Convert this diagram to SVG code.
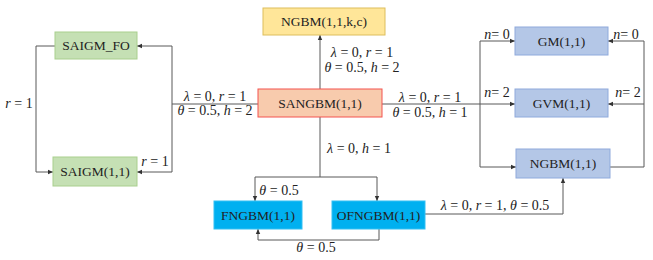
<svg xmlns="http://www.w3.org/2000/svg" width="653" height="260" viewBox="0 0 653 260">
<style>
.box{stroke-width:1}
.green{fill:#C5E0B4;stroke:#A9CF8E}
.yellow{fill:#FFE699;stroke:#DDBE5C}
.salmon{fill:#F8CBAD;stroke:#F4534F}
.blue{fill:#B4C7E7;stroke:#8FAADC}
.cyan{fill:#00B0F0;stroke:#33BFF3}
.lbl{font-size:13.5px;fill:#222;text-anchor:middle;dominant-baseline:central}
.m{font-size:14px;fill:#222}
.mc{text-anchor:middle}
.i{font-style:italic}
.ln{fill:none;stroke:#595959;stroke-width:1}
</style>
<defs>
<marker id="ah" markerUnits="userSpaceOnUse" markerWidth="6" markerHeight="6" refX="5" refY="3" orient="auto">
<path d="M0,0.8 L5,3 L0,5.2 Z" fill="#333"/>
</marker>
</defs>
<g id="connectors">
<path class="ln" d="M320,89 V35" marker-end="url(#ah)"/>
<path class="ln" d="M258,104 H172 V46 H137" marker-end="url(#ah)"/>
<path class="ln" d="M172,104 V172 H137" marker-end="url(#ah)"/>
<path class="ln" d="M55,46 H36 V172 H53" marker-end="url(#ah)"/>
<path class="ln" d="M382,104 H515" marker-end="url(#ah)"/>
<path class="ln" d="M480,104 V41 H515" marker-end="url(#ah)"/>
<path class="ln" d="M480,104 V167 H516" marker-end="url(#ah)"/>
<path class="ln" d="M610,167 H644 V41 H608" marker-end="url(#ah)"/>
<path class="ln" d="M644,104 H608" marker-end="url(#ah)"/>
<path class="ln" d="M320,117 V177 H255 V201" marker-end="url(#ah)"/>
<path class="ln" d="M320,177 H377 V201" marker-end="url(#ah)"/>
<path class="ln" d="M379,229 V240 H258 V229" marker-end="url(#ah)"/>
<path class="ln" d="M425,214 H563 V178" marker-end="url(#ah)"/>
</g>
<g id="labels" font-family="Liberation Serif, DejaVu Serif, serif">
<text class="m mc" x="362" y="57"><tspan class="i">λ</tspan> = 0, <tspan class="i">r</tspan> = 1</text>
<text class="m mc" x="362" y="72"><tspan class="i">θ</tspan> = 0.5, <tspan class="i">h</tspan> = 2</text>
<text class="m mc" x="215" y="101"><tspan class="i">λ</tspan> = 0, <tspan class="i">r</tspan> = 1</text>
<text class="m mc" x="215" y="115"><tspan class="i">θ</tspan> = 0.5, <tspan class="i">h</tspan> = 2</text>
<text class="m mc" x="430" y="102"><tspan class="i">λ</tspan> = 0, <tspan class="i">r</tspan> = 1</text>
<text class="m mc" x="430" y="117"><tspan class="i">θ</tspan> = 0.5, <tspan class="i">h</tspan> = 1</text>
<text class="m mc" x="19" y="108"><tspan class="i">r</tspan> = 1</text>
<text class="m mc" x="155" y="166"><tspan class="i">r</tspan> = 1</text>
<text class="m mc" x="497" y="39"><tspan class="i">n</tspan>= 0</text>
<text class="m mc" x="626" y="39"><tspan class="i">n</tspan>= 0</text>
<text class="m mc" x="497" y="97"><tspan class="i">n</tspan>= 2</text>
<text class="m mc" x="628" y="97"><tspan class="i">n</tspan>= 2</text>
<text class="m mc" x="359" y="153"><tspan class="i">λ</tspan> = 0, <tspan class="i">h</tspan> = 1</text>
<text class="m mc" x="279" y="195"><tspan class="i">θ</tspan> = 0.5</text>
<text class="m mc" x="316" y="252"><tspan class="i">θ</tspan> = 0.5</text>
<text class="m mc" x="495" y="210"><tspan class="i">λ</tspan> = 0, <tspan class="i">r</tspan> = 1, <tspan class="i">θ</tspan> = 0.5</text>
</g>
<g id="nodes" font-family="Liberation Serif, DejaVu Serif, serif">
<g id="NGBM11kc"><rect class="box yellow" x="263" y="8" width="122" height="27"/><text class="lbl" x="324" y="21.5">NGBM(1,1,k,c)</text></g>
<g id="SAIGM_FO"><rect class="box green" x="55" y="32" width="82" height="27"/><text class="lbl" x="96" y="45.5">SAIGM_FO</text></g>
<g id="SANGBM"><rect class="box salmon" x="258" y="89" width="124" height="28"/><text class="lbl" x="320" y="103">SANGBM(1,1)</text></g>
<g id="GM"><rect class="box blue" x="515" y="27" width="93" height="28"/><text class="lbl" x="561.5" y="41">GM(1,1)</text></g>
<g id="GVM"><rect class="box blue" x="515" y="89" width="93" height="28"/><text class="lbl" x="561.5" y="103">GVM(1,1)</text></g>
<g id="NGBM"><rect class="box blue" x="516" y="149" width="94" height="29"/><text class="lbl" x="563" y="163.5">NGBM(1,1)</text></g>
<g id="SAIGM"><rect class="box green" x="53" y="157" width="84" height="29"/><text class="lbl" x="95" y="171.5">SAIGM(1,1)</text></g>
<g id="FNGBM"><rect class="box cyan" x="214" y="201" width="88" height="28"/><text class="lbl" x="258" y="215">FNGBM(1,1)</text></g>
<g id="OFNGBM"><rect class="box cyan" x="332" y="201" width="93" height="28"/><text class="lbl" x="378.5" y="215">OFNGBM(1,1)</text></g>
</g>
</svg>
